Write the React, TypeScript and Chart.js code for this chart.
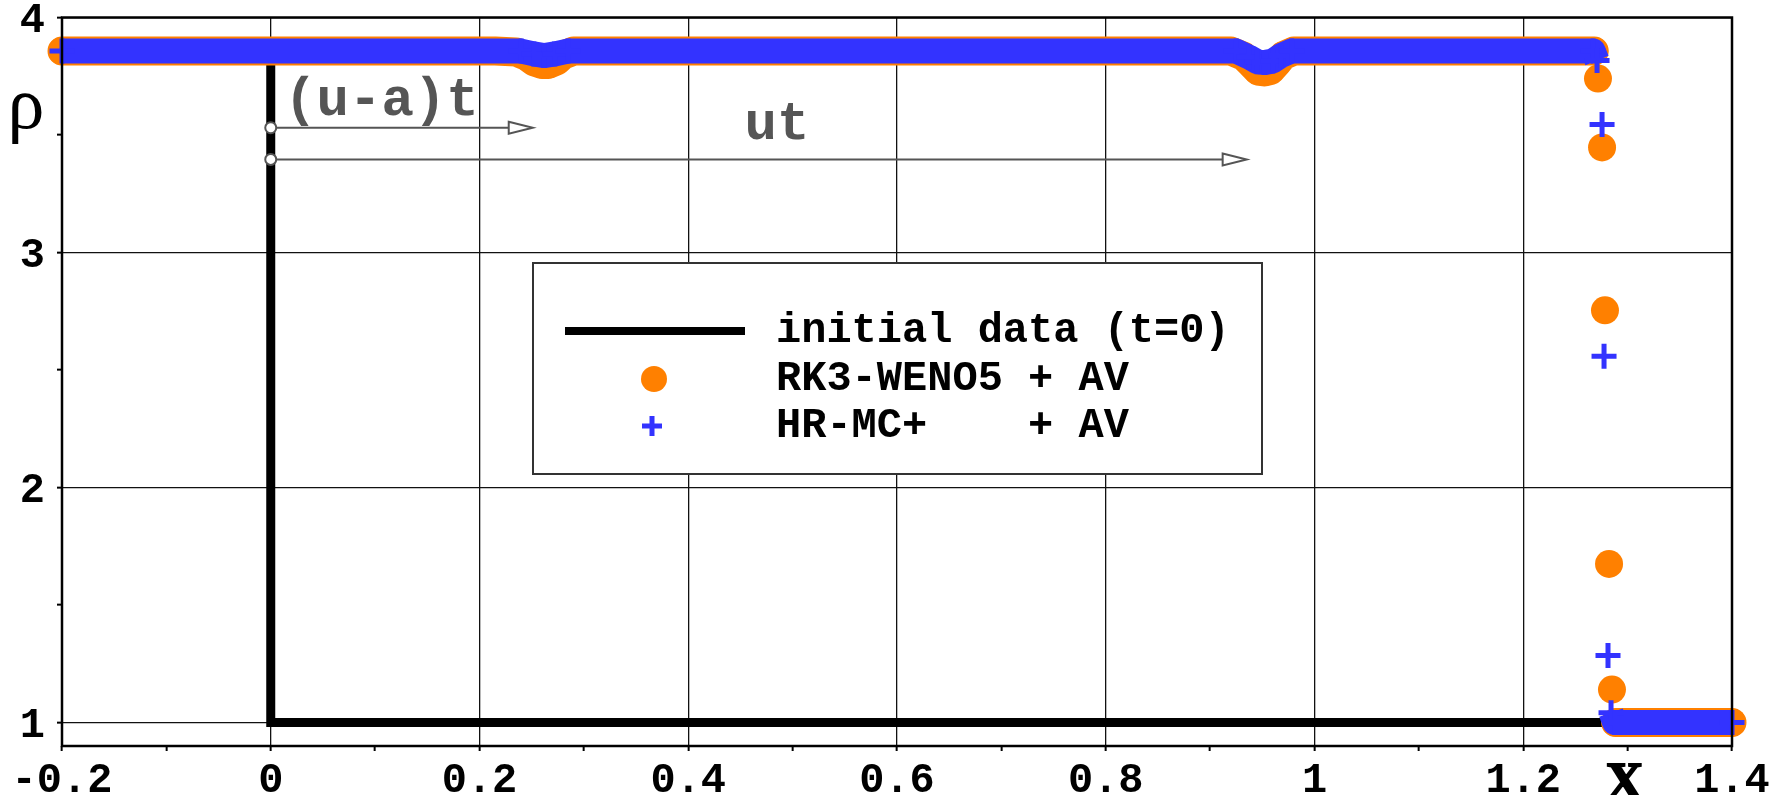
import React, { useEffect, useRef } from 'react';
import { Chart, registerables } from 'chart.js';

Chart.register(...registerables);

// ---- data ----
const initialX = [-0.2, 0, 0, 1.4];
const initialRho = [3.857, 3.857, 1, 1];

const wenoX = [
  -0.2, 0.215, 0.235, 0.245, 0.252, 0.26, 0.266, 0.274, 0.28, 0.29,
  0.92, 0.932, 0.94, 0.946, 0.952, 0.958, 0.964, 0.97, 0.98,
  1.268, 1.2716, 1.2755, 1.2783, 1.2822, 1.285, 1.2885, 1.4,
];
const wenoRho = [
  3.857, 3.857, 3.853, 3.835, 3.812, 3.8, 3.8, 3.815, 3.84, 3.857,
  3.857, 3.835, 3.8, 3.772, 3.768, 3.775, 3.805, 3.838, 3.857,
  3.857, 3.74, 3.447, 2.754, 1.675, 1.14, 1.0, 1.0,
];

const mcX = [
  -0.2, 0.24, 0.252, 0.262, 0.272, 0.285,
  0.925, 0.937, 0.945, 0.952, 0.96, 0.968, 0.978,
  1.267, 1.2707, 1.2755, 1.2774, 1.2812, 1.2841, 1.2875, 1.4,
];
const mcRho = [
  3.857, 3.857, 3.845, 3.838, 3.845, 3.857,
  3.857, 3.832, 3.812, 3.808, 3.815, 3.838, 3.857,
  3.857, 3.817, 3.545, 2.559, 1.285, 1.042, 1.0, 1.0,
];

const seriesLabels = ['initial data (t=0)', 'RK3-WENO5 + AV', 'HR-MC+    + AV'];

const xTickValues = [-0.2, -0.1, 0, 0.1, 0.2, 0.3, 0.4, 0.5, 0.6, 0.7, 0.8, 0.9, 1, 1.1, 1.2, 1.3, 1.4];
const xTickLabels = ['-0.2', '', '0', '', '0.2', '', '0.4', '', '0.6', '', '0.8', '', '1', '', '1.2', 'X', '1.4'];
const xAxisNameIndex = 15;
const yTickValues = [1, 1.5, 2, 2.5, 3, 3.5, 4];
const yTickLabels = ['1', '', '2', '', '3', '', '4'];

const arrowLabels = ['(u-a)t', 'ut'];
const arrowStartX = [0, 0];
const arrowEndX = [0.251, 0.935];
const arrowRho = [3.531, 3.396];
const arrowLabelX = [0.106, 0.485];
const arrowLabelRho = [3.583, 3.485];

// ---- styles ----
const ORANGE = '#ff8000';
const BLUE = '#3333ff';
const GRAY = '#555555';
const MONO = '"Liberation Mono", "DejaVu Sans Mono", monospace';
const SERIF = '"Liberation Serif", "DejaVu Serif", serif';

const toPoints = (xs: number[], ys: number[]) => xs.map((x, i) => ({ x, y: ys[i] }));
const segColor = (color: string) => (ctx: any) =>
  Math.abs(ctx.p1.parsed.y - ctx.p0.parsed.y) > 0.05 ? 'rgba(0,0,0,0)' : color;

const overlayPlugin = {
  id: 'overlay',
  afterDatasetsDraw(chart: any) {
    const { ctx, chartArea: a, scales } = chart;
    const xs = scales.x;
    const ys = scales.y;
    ctx.save();

    // frame
    ctx.strokeStyle = '#000';
    ctx.lineWidth = 2.5;
    ctx.strokeRect(a.left, a.top, a.right - a.left, a.bottom - a.top);

    // heavy axis name "X" under the 1.3 tick
    ctx.font = `bold 52px ${SERIF}`;
    ctx.textAlign = 'center';
    ctx.textBaseline = 'alphabetic';
    ctx.fillStyle = '#000';
    ctx.strokeStyle = '#000';
    ctx.lineWidth = 2;
    const xName = xTickLabels[xAxisNameIndex];
    const xNamePx = xs.getPixelForValue(xTickValues[xAxisNameIndex]);
    ctx.fillText(xName, xNamePx - 3, 799);
    ctx.strokeText(xName, xNamePx - 3, 799);

    // arrows with labels
    for (let i = 0; i < arrowLabels.length; i++) {
      const x0 = xs.getPixelForValue(arrowStartX[i]);
      const x1 = xs.getPixelForValue(arrowEndX[i]);
      const yy = ys.getPixelForValue(arrowRho[i]);
      ctx.strokeStyle = GRAY;
      ctx.lineWidth = 2;
      ctx.beginPath();
      ctx.moveTo(x0, yy);
      ctx.lineTo(x1 - 24, yy);
      ctx.stroke();
      ctx.beginPath();
      ctx.moveTo(x1 - 24, yy - 6);
      ctx.lineTo(x1, yy);
      ctx.lineTo(x1 - 24, yy + 6);
      ctx.closePath();
      ctx.fillStyle = '#fff';
      ctx.fill();
      ctx.stroke();
      ctx.beginPath();
      ctx.arc(x0, yy, 5.5, 0, Math.PI * 2);
      ctx.fillStyle = '#fff';
      ctx.fill();
      ctx.stroke();

      ctx.fillStyle = GRAY;
      ctx.font = `bold 54px ${MONO}`;
      ctx.textAlign = 'center';
      ctx.textBaseline = 'alphabetic';
      ctx.fillText(arrowLabels[i], xs.getPixelForValue(arrowLabelX[i]), ys.getPixelForValue(arrowLabelRho[i]));
    }

    // y axis symbol
    ctx.fillStyle = '#000';
    ctx.font = `74px ${SERIF}`;
    ctx.textAlign = 'center';
    ctx.textBaseline = 'alphabetic';
    ctx.fillText('\u03c1', 26, 128);

    // legend box
    const ds = chart.data.datasets;
    ctx.fillStyle = '#fff';
    ctx.fillRect(533, 263, 729, 211);
    ctx.strokeStyle = '#333';
    ctx.lineWidth = 2;
    ctx.strokeRect(533, 263, 729, 211);

    const rows = [331, 379, 426];
    ctx.strokeStyle = '#000';
    ctx.lineWidth = 8;
    ctx.beginPath();
    ctx.moveTo(565, rows[0]);
    ctx.lineTo(745, rows[0]);
    ctx.stroke();
    ctx.fillStyle = ORANGE;
    ctx.beginPath();
    ctx.arc(654, rows[1], 13, 0, Math.PI * 2);
    ctx.fill();
    ctx.strokeStyle = BLUE;
    ctx.lineWidth = 5;
    ctx.beginPath();
    ctx.moveTo(642, rows[2]);
    ctx.lineTo(662, rows[2]);
    ctx.moveTo(652, rows[2] - 10);
    ctx.lineTo(652, rows[2] + 10);
    ctx.stroke();

    const legendTexts = [ds[2].label, ds[1].label, ds[0].label];
    ctx.fillStyle = '#000';
    ctx.font = `bold 42px ${MONO}`;
    ctx.textAlign = 'left';
    ctx.textBaseline = 'middle';
    legendTexts.forEach((t: string, i: number) => ctx.fillText(t, 776, rows[i]));

    ctx.restore();
  },
};

export default function App() {
  const canvasRef = useRef<HTMLCanvasElement | null>(null);

  useEffect(() => {
    if (!canvasRef.current) return;
    const chart = new Chart(canvasRef.current, {
      type: 'scatter',
      data: {
        datasets: [
          {
            label: seriesLabels[2],
            data: toPoints(mcX, mcRho),
            showLine: true,
            borderColor: BLUE,
            borderWidth: 25,
            borderCapStyle: 'butt',
            borderJoinStyle: 'round',
            pointStyle: 'cross',
            pointRadius: 12.5,
            pointBorderWidth: 5,
            pointBorderColor: BLUE,
            pointBackgroundColor: BLUE,
            segment: { borderColor: segColor(BLUE) },
            clip: false,
            order: 0,
          } as any,
          {
            label: seriesLabels[1],
            data: toPoints(wenoX, wenoRho),
            showLine: true,
            borderColor: ORANGE,
            borderWidth: 29,
            borderCapStyle: 'round',
            borderJoinStyle: 'round',
            pointStyle: 'circle',
            pointRadius: 14,
            pointBorderWidth: 0,
            pointBackgroundColor: ORANGE,
            segment: { borderColor: segColor(ORANGE) },
            clip: false,
            order: 1,
          } as any,
          {
            label: seriesLabels[0],
            data: toPoints(initialX, initialRho),
            showLine: true,
            borderColor: '#000',
            borderWidth: 9,
            borderCapStyle: 'butt',
            borderJoinStyle: 'miter',
            pointRadius: 0,
            clip: false,
            order: 2,
          } as any,
        ],
      },
      options: {
        responsive: false,
        animation: false,
        events: [],
        layout: { padding: { left: 0, top: 17, right: 46, bottom: 0 } },
        plugins: { legend: { display: false }, tooltip: { enabled: false } },
        scales: {
          x: {
            type: 'linear',
            min: -0.2,
            max: 1.4,
            afterBuildTicks: (s: any) => {
              s.ticks = xTickValues.map((v) => ({ value: v }));
            },
            afterFit: (s: any) => {
              s.height = 49;
              s.paddingLeft = 0;
              s.paddingRight = 0;
            },
            ticks: {
              autoSkip: false,
              maxRotation: 0,
              minRotation: 0,
              padding: 5,
              color: (c: any) => (c.index === xAxisNameIndex ? 'rgba(0,0,0,0)' : '#000'),
              font: { family: MONO, size: 42, weight: 'bold' },
              callback: (_v: any, i: number) => xTickLabels[i],
            },
            grid: {
              color: (c: any) => (c.index % 2 === 0 ? '#111' : 'rgba(0,0,0,0)'),
              lineWidth: 1.3,
              tickColor: '#000',
              tickLength: 5,
              tickWidth: 2,
            },
            border: { display: false },
          },
          y: {
            type: 'linear',
            min: 0.9,
            max: 4,
            afterBuildTicks: (s: any) => {
              s.ticks = yTickValues.map((v) => ({ value: v }));
            },
            afterFit: (s: any) => {
              s.width = 62;
              s.paddingTop = 0;
              s.paddingBottom = 0;
            },
            ticks: {
              autoSkip: false,
              padding: 12,
              labelOffset: 4,
              color: '#000',
              font: { family: MONO, size: 42, weight: 'bold' },
              callback: (_v: any, i: number) => yTickLabels[i],
            },
            grid: {
              color: (c: any) =>
                c.tick && Number.isInteger(c.tick.value) ? '#111' : 'rgba(0,0,0,0)',
              lineWidth: 1.3,
              tickColor: '#000',
              tickLength: 5,
              tickWidth: 2,
            },
            border: { display: false },
          },
        },
      } as any,
      plugins: [overlayPlugin],
    });
    return () => chart.destroy();
  }, []);

  return (
    <div style={{ position: 'fixed', left: 0, top: 0, width: 1778, height: 795, background: '#fff' }}>
      <canvas ref={canvasRef} width={1778} height={795} style={{ display: 'block' }} />
    </div>
  );
}
